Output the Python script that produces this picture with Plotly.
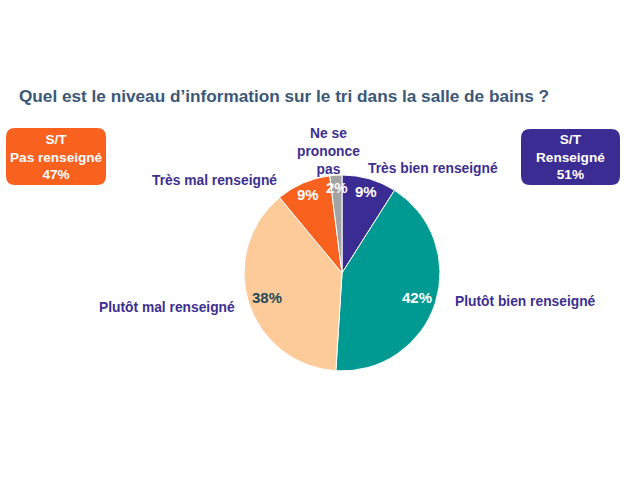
import math
import plotly.graph_objects as go

# ---- data ----
categories = ["Très bien renseigné", "Plutôt bien renseigné", "Plutôt mal renseigné",
              "Très mal renseigné", "Ne se prononce pas"]
values = [9, 42, 38, 9, 2]
slice_colors = ["#3b2c93", "#009a93", "#fdca9a", "#f8611e", "#a3a3a3"]
pct_text_colors = ["#ffffff", "#ffffff", "#24495a", "#ffffff", "#ffffff"]
title_text = "Quel est le niveau d’information sur le tri dans la salle de bains ?"
box_left_lines = ["S/T", "Pas renseigné", "47%"]
box_right_lines = ["S/T", "Renseigné", "51%"]

W, H = 640, 480
FONT = "Liberation Sans, Arial, sans-serif"
LABEL_COLOR = "#3d2f8f"

def px(x):
    return x / W

def py(y):
    return 1 - y / H

# pie geometry (pixels)
cx, cy, R = 342, 273, 98
dom_x = [px(cx - R), px(cx + R)]
dom_y = [py(cy + R), py(cy - R)]

fig = go.Figure(go.Pie(
    labels=categories, values=values, sort=False, direction="clockwise", rotation=0,
    marker=dict(colors=slice_colors, line=dict(color="#ffffff", width=1)),
    textinfo="none", hoverinfo="label+percent", showlegend=False,
    domain=dict(x=dom_x, y=dom_y),
))

annotations = []

# percentage labels placed from the data (angle of each slice bisector)
total = sum(values)
cum = 0
for v, tc in zip(values, pct_text_colors):
    ang = 2 * math.pi * (cum + v / 2) / total
    cum += v
    k = 0.80 if v > 20 else 0.87
    x = cx + k * R * math.sin(ang)
    y = cy - k * R * math.cos(ang)
    annotations.append(dict(x=px(x), y=py(y), xref="paper", yref="paper",
                            text=f"<b>{v}%</b>", showarrow=False,
                            font=dict(family=FONT, size=15, color=tc),
                            xanchor="center", yanchor="middle"))

# outside category labels
label_pos = {
    "Très bien renseigné": (433, 168, "Très bien renseigné"),
    "Plutôt bien renseigné": (525, 301, "Plutôt bien renseigné"),
    "Plutôt mal renseigné": (167, 307, "Plutôt mal renseigné"),
    "Très mal renseigné": (214, 180, "Très mal renseigné"),
    "Ne se prononce pas": (328, 151, "Ne se<br>prononce<br>pas"),
}
for cat in categories:
    x, y, t = label_pos[cat]
    annotations.append(dict(x=px(x), y=py(y), xref="paper", yref="paper",
                            text=f"<b>{t}</b>", showarrow=False,
                            font=dict(family=FONT, size=13.8, color=LABEL_COLOR),
                            xanchor="center", yanchor="middle", align="center"))

# title
annotations.append(dict(x=px(17), y=py(96), xref="paper", yref="paper",
                        text=f"<b>{title_text}</b>", showarrow=False,
                        font=dict(family=FONT, size=17.2, color="#3b5878"),
                        xanchor="left", yanchor="middle"))

# summary boxes
def rounded_rect(x0, y0, x1, y1, r):
    X = lambda v: px(v)
    Y = lambda v: py(v)
    return (f"M {X(x0 + r)},{Y(y0)} L {X(x1 - r)},{Y(y0)} "
            f"Q {X(x1)},{Y(y0)} {X(x1)},{Y(y0 + r)} L {X(x1)},{Y(y1 - r)} "
            f"Q {X(x1)},{Y(y1)} {X(x1 - r)},{Y(y1)} L {X(x0 + r)},{Y(y1)} "
            f"Q {X(x0)},{Y(y1)} {X(x0)},{Y(y1 - r)} L {X(x0)},{Y(y0 + r)} "
            f"Q {X(x0)},{Y(y0)} {X(x0 + r)},{Y(y0)} Z")

shapes = []
boxes = [((6, 128, 106, 185), "#f8611e", box_left_lines),
         ((521, 129, 620, 185), "#3b2c93", box_right_lines)]
for (x0, y0, x1, y1), col, lines in boxes:
    shapes.append(dict(type="path", xref="paper", yref="paper",
                       path=rounded_rect(x0, y0, x1, y1, 9),
                       fillcolor=col, line=dict(width=0)))
    annotations.append(dict(x=px((x0 + x1) / 2), y=py((y0 + y1) / 2),
                            xref="paper", yref="paper",
                            text="<b>" + "<br>".join(lines) + "</b>", showarrow=False,
                            font=dict(family=FONT, size=13.6, color="#ffffff"),
                            xanchor="center", yanchor="middle", align="center"))

fig.update_layout(
    width=W, height=H, margin=dict(l=0, r=0, t=0, b=0),
    paper_bgcolor="#ffffff", plot_bgcolor="#ffffff",
    annotations=annotations, shapes=shapes,
)

fig.write_html("out.html", config={"displayModeBar": False},
               post_script="document.body.style.margin='0';")
